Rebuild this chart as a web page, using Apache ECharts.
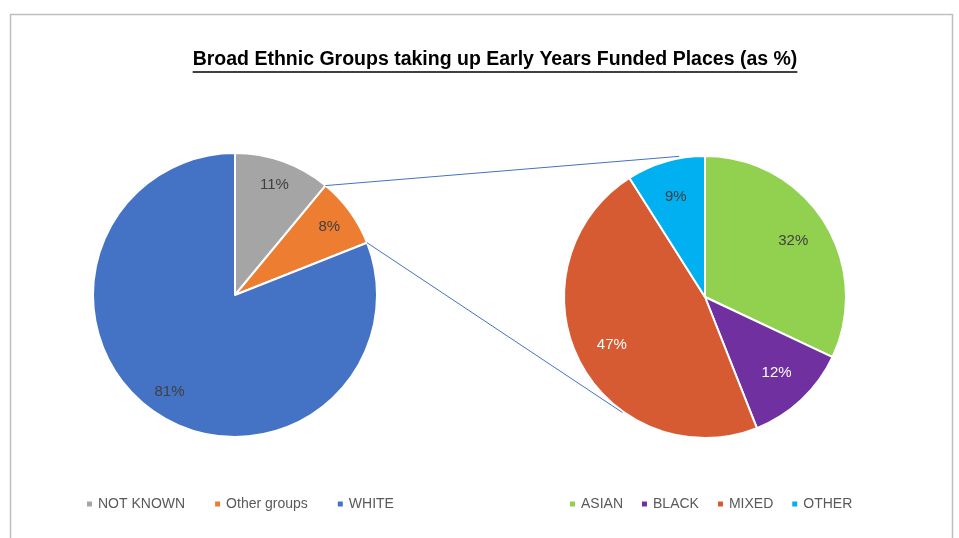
<!DOCTYPE html>
<html>
<head>
<meta charset="utf-8">
<script src="https://cdn.jsdelivr.net/npm/echarts@6/dist/echarts.min.js"></script>
<style>
  html, body { margin: 0; padding: 0; background: #fff; }
  #chart { width: 959px; height: 538px; }
</style>
</head>
<body>
<div id="chart"></div>
<script>
// main pie
const mainNames = ['NOT KNOWN', 'Other groups', 'WHITE']
const mainValues = [11, 8, 81]
const mainColors = ['#A5A5A5', '#ED7D31', '#4472C4']
const mainLabelColors = ['#404040', '#404040', '#404040']

// split of "Other groups"
const subNames = ['ASIAN', 'BLACK', 'MIXED', 'OTHER']
const subValues = [32, 12, 47, 9]
const subColors = ['#92D050', '#7030A0', '#D65B33', '#00B0F0']
const subLabelColors = ['#404040', '#ffffff', '#ffffff', '#404040']

const titleText = 'Broad Ethnic Groups taking up Early Years Funded Places (as %)'
const titleFont = 'bold 19.5px "Liberation Sans", Arial, sans-serif'

const leftC = [235, 295], leftR = 142
const rightC = [705, 297], rightR = 141

const chart = echarts.init(document.getElementById('chart'))

function pieData(names, values, colors) {
  return names.map((n, i) => ({ name: n, value: values[i], itemStyle: { color: colors[i] } }))
}
function labelData(names, values, labelColors) {
  return names.map((n, i) => ({ name: n, value: values[i], label: { color: labelColors[i] } }))
}

// point on a pie edge, angle measured clockwise from 12 o'clock
function edgePoint(c, r, deg) {
  const a = deg * Math.PI / 180
  return [c[0] + r * Math.sin(a), c[1] - r * Math.cos(a)]
}

// connector lines start at the edges of the "Other groups" slice
const total = mainValues.reduce((a, b) => a + b, 0)
const splitIdx = mainNames.indexOf('Other groups')
let before = 0
for (let i = 0; i < splitIdx; i++) before += mainValues[i]
const a1 = before / total * 360
const a2 = (before + mainValues[splitIdx]) / total * 360
const p1 = edgePoint(leftC, leftR, a1)
const p2 = edgePoint(leftC, leftR, a2)
const q1 = edgePoint(rightC, rightR + 2, -10.4)
const q2 = edgePoint(rightC, rightR + 1, 215.5)

// title width for the underline
const ctx = document.createElement('canvas').getContext('2d')
ctx.font = titleFont
const tw = ctx.measureText(titleText).width
const titleX = 495

const commonPie = {
  type: 'pie',
  startAngle: 90,
  clockwise: true,
  avoidLabelOverlap: false,
  emphasis: { disabled: true },
  animation: false
}

chart.setOption({
  animation: false,
  graphic: [
    {
      type: 'rect',
      shape: { x: 10.5, y: 14.5, width: 942, height: 540 },
      style: { fill: 'none', stroke: '#BFBFBF', lineWidth: 1.5 },
      silent: true
    },
    {
      type: 'text',
      x: titleX,
      y: 60,
      style: {
        text: titleText,
        font: titleFont,
        fill: '#000',
        align: 'center',
        verticalAlign: 'middle'
      }
    },
    {
      type: 'line',
      shape: { x1: titleX - tw / 2, y1: 72, x2: titleX + tw / 2, y2: 72 },
      style: { stroke: '#000', lineWidth: 1.3 }
    },
    {
      type: 'line',
      shape: { x1: p1[0], y1: p1[1], x2: q1[0], y2: q1[1] },
      style: { stroke: '#4472C4', lineWidth: 1 },
      z: 10
    },
    {
      type: 'line',
      shape: { x1: p2[0], y1: p2[1], x2: q2[0], y2: q2[1] },
      style: { stroke: '#4472C4', lineWidth: 1 },
      z: 10
    }
  ],
  legend: [
    {
      data: mainNames,
      left: 80,
      top: 492,
      icon: 'rect',
      itemWidth: 7,
      itemHeight: 7,
      itemGap: 28,
      selectedMode: false,
      textStyle: { color: '#595959', fontSize: 14, fontFamily: 'Liberation Sans' }
    },
    {
      data: subNames,
      left: 563,
      top: 492,
      icon: 'rect',
      itemWidth: 7,
      itemHeight: 7,
      itemGap: 17,
      selectedMode: false,
      textStyle: { color: '#595959', fontSize: 14, fontFamily: 'Liberation Sans' }
    }
  ],
  series: [
    Object.assign({}, commonPie, {
      name: 'main',
      center: leftC,
      radius: [0, leftR],
      itemStyle: { borderColor: '#fff', borderWidth: 2 },
      label: { show: false },
      labelLine: { show: false },
      data: pieData(mainNames, mainValues, mainColors)
    }),
    Object.assign({}, commonPie, {
      name: 'split',
      center: rightC,
      radius: [0, rightR],
      itemStyle: { borderColor: '#fff', borderWidth: 2 },
      label: { show: false },
      labelLine: { show: false },
      data: pieData(subNames, subValues, subColors)
    }),
    // transparent rings that only carry the % labels
    Object.assign({}, commonPie, {
      name: 'mainLabels',
      center: leftC,
      radius: [leftR * 0.6, leftR],
      silent: true,
      itemStyle: { color: 'transparent' },
      label: {
        show: true,
        position: 'inside',
        formatter: '{c}%',
        fontSize: 15,
        fontFamily: 'Liberation Sans'
      },
      labelLine: { show: false },
      data: labelData(mainNames, mainValues, mainLabelColors)
    }),
    Object.assign({}, commonPie, {
      name: 'splitLabels',
      center: rightC,
      radius: [rightR * 0.44, rightR],
      silent: true,
      itemStyle: { color: 'transparent' },
      label: {
        show: true,
        position: 'inside',
        formatter: '{c}%',
        fontSize: 15,
        fontFamily: 'Liberation Sans'
      },
      labelLine: { show: false },
      data: labelData(subNames, subValues, subLabelColors)
    })
  ]
})
</script>
</body>
</html>
